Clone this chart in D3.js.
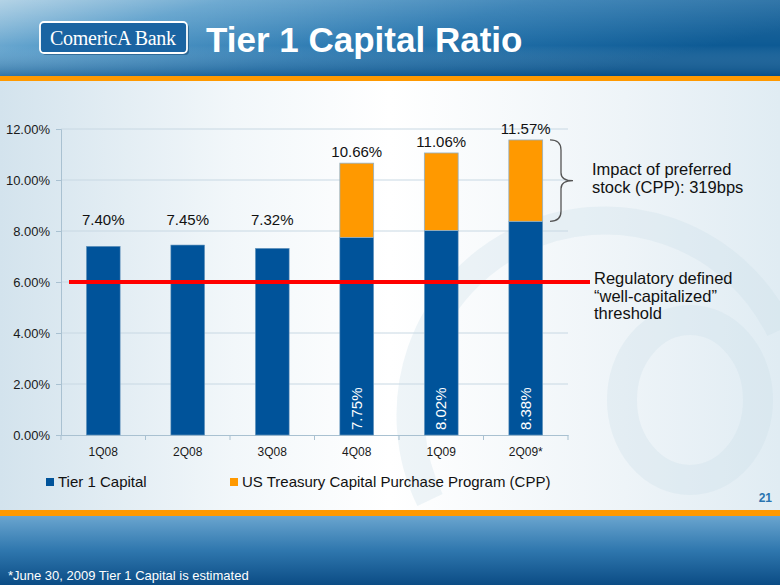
<!DOCTYPE html>
<html><head><meta charset="utf-8">
<script src="https://cdn.jsdelivr.net/npm/d3@7"></script>
<style>body{margin:0;padding:0;overflow:hidden}svg{display:block}</style>
</head><body>
<svg id="c" width="780" height="585"></svg>
<script>
const categories = ["1Q08","2Q08","3Q08","4Q08","1Q09","2Q09*"];
const tier1 = [7.40, 7.45, 7.32, 7.75, 8.02, 8.38];
const cpp = [0, 0, 0, 2.91, 3.04, 3.19];
const totals = [7.40, 7.45, 7.32, 10.66, 11.06, 11.57];
const yTicks = [0, 2, 4, 6, 8, 10, 12];
const threshold = 6;
const seriesNames = ["Tier 1 Capital", "US Treasury Capital Purchase Program (CPP)"];

const svg = d3.select("#c");
const defs = svg.append("defs");
const font = "Liberation Sans, Arial, sans-serif";

// gradients
const bg = defs.append("linearGradient").attr("id","bg").attr("x1",0).attr("x2",1).attr("y1",0).attr("y2",0);
[[0,"#d3e3ed"],[0.3,"#f2f7fa"],[0.5,"#ffffff"],[0.8,"#eef4f8"],[1,"#e0ecf3"]].forEach(s=>bg.append("stop").attr("offset",s[0]).attr("stop-color",s[1]));
const hd = defs.append("linearGradient").attr("id","hd").attr("x1",0).attr("x2",1).attr("y1",0).attr("y2",0.4);
[[0,"#a9cde3"],[0.25,"#5c9fcb"],[0.6,"#2a78b0"],[1,"#0d5a94"]].forEach(s=>hd.append("stop").attr("offset",s[0]).attr("stop-color",s[1]));
const hd2 = defs.append("linearGradient").attr("id","hd2").attr("x1",0).attr("x2",0).attr("y1",0).attr("y2",1);
[[0,"#ffffff",0.12],[0.6,"#ffffff",0],[1,"#003a6e",0.35]].forEach(s=>hd2.append("stop").attr("offset",s[0]).attr("stop-color",s[1]).attr("stop-opacity",s[2]));
const ft = defs.append("linearGradient").attr("id","ft").attr("x1",0).attr("x2",0).attr("y1",0).attr("y2",1);
[[0,"#6aa5cf"],[0.5,"#2f77ae"],[1,"#0b4c85"]].forEach(s=>ft.append("stop").attr("offset",s[0]).attr("stop-color",s[1]));

svg.append("rect").attr("width",780).attr("height",585).attr("fill","url(#bg)");

// watermark
const wm = svg.append("g").attr("fill","none").attr("stroke","#c9dde8").attr("stroke-opacity",0.3);
wm.append("path").attr("d","M 430 500 A 190 190 0 0 1 780 330").attr("stroke-width",28);
wm.append("ellipse").attr("cx",690).attr("cy",400).attr("rx",68).attr("ry",80).attr("stroke-width",30);

// header
svg.append("rect").attr("width",780).attr("height",76).attr("fill","url(#hd)");
svg.append("rect").attr("width",780).attr("height",76).attr("fill","url(#hd2)");
svg.append("rect").attr("y",76).attr("width",780).attr("height",5).attr("fill","#ff9900");
// logo
svg.append("rect").attr("x",42).attr("y",24).attr("width",147).attr("height",31).attr("rx",4).attr("fill","#0b3f6e").attr("opacity",0.5);
svg.append("rect").attr("x",40).attr("y",22).attr("width",147).attr("height",31).attr("rx",4).attr("fill","#1a64a2").attr("stroke","#ffffff").attr("stroke-width",1.8);
svg.append("text").attr("x",113).attr("y",45).attr("text-anchor","middle").attr("fill","#fff")
  .attr("font-family","Liberation Serif, Times New Roman, serif").attr("font-size",20).attr("textLength",126).text("ComericA Bank");
svg.append("text").attr("x",206).attr("y",52).attr("fill","#fff").attr("font-family",font).attr("font-weight","bold")
  .attr("font-size",35).text("Tier 1 Capital Ratio");

// footer
svg.append("rect").attr("y",510).attr("width",780).attr("height",6).attr("fill","#ff9900");
svg.append("rect").attr("y",516).attr("width",780).attr("height",69).attr("fill","url(#ft)");
svg.append("text").attr("x",8).attr("y",580).attr("fill","#fff").attr("font-family",font).attr("font-size",13).text("*June 30, 2009 Tier 1 Capital is estimated");
svg.append("text").attr("x",772).attr("y",502).attr("text-anchor","end").attr("fill","#2a74b0").attr("font-family",font).attr("font-weight","bold").attr("font-size",12).text("21");

// scales
const x = d3.scaleBand().domain(categories).range([61,568]).paddingInner(0.6).paddingOuter(0.3);
const y = d3.scaleLinear().domain([0,12]).range([435,129]);
const axisColor = "#a9c1d1";

// grid
svg.append("g").selectAll("line").data(yTicks.filter(d=>d>0)).join("line")
  .attr("x1",61).attr("x2",568).attr("y1",d=>y(d)).attr("y2",d=>y(d))
  .attr("stroke","#c8d8e3").attr("stroke-width",1);

// y axis
const ya = svg.append("g").attr("transform","translate(61,0)")
  .call(d3.axisLeft(y).tickValues(yTicks).tickSize(5).tickPadding(6).tickFormat(d=>d.toFixed(2)+"%"));
ya.select(".domain").attr("stroke",axisColor);
ya.selectAll(".tick line").attr("stroke",axisColor);
ya.selectAll("text").attr("font-family",font).attr("font-size",13).attr("fill","#1a1a1a");

// x axis
const xa = svg.append("g").attr("transform","translate(0,435)")
  .call(d3.axisBottom(x).tickSize(0).tickPadding(12));
xa.select(".domain").attr("stroke",axisColor);
xa.selectAll("text").attr("font-family",font).attr("font-size",12).attr("fill","#1a1a1a");
const step = x.step();
svg.append("g").selectAll("line").data(d3.range(categories.length+1)).join("line")
  .attr("x1",i=>61+i*step).attr("x2",i=>61+i*step).attr("y1",435).attr("y2",440)
  .attr("stroke",axisColor);

// bars
const blue = "#00539a", orange = "#ff9900";
const bars = svg.append("g");
bars.selectAll("rect.t").data(categories).join("rect").attr("class","t")
  .attr("x",d=>x(d)).attr("width",x.bandwidth())
  .attr("y",(d,i)=>y(tier1[i])).attr("height",(d,i)=>y(0)-y(tier1[i]))
  .attr("fill",blue).attr("stroke","#6f9cc0").attr("stroke-width",0.6);
bars.selectAll("rect.c").data(categories.filter((d,i)=>cpp[i]>0)).join("rect").attr("class","c")
  .attr("x",d=>x(d)).attr("width",x.bandwidth())
  .attr("y",d=>{const i=categories.indexOf(d);return y(tier1[i]+cpp[i]);})
  .attr("height",d=>{const i=categories.indexOf(d);return y(tier1[i])-y(tier1[i]+cpp[i]);})
  .attr("fill",orange).attr("stroke","#8fb0c8").attr("stroke-width",0.8);

// threshold line
svg.append("line").attr("x1",69).attr("x2",590).attr("y1",y(threshold)).attr("y2",y(threshold))
  .attr("stroke","#ff0000").attr("stroke-width",4);

// total labels
svg.append("g").selectAll("text").data(categories).join("text")
  .attr("x",d=>x(d)+x.bandwidth()/2)
  .attr("y",(d,i)=> cpp[i]>0 ? y(totals[i])-6 : y(8.47)+6)
  .attr("text-anchor","middle").attr("font-family",font).attr("font-size",15).attr("fill","#111")
  .text((d,i)=>totals[i].toFixed(2)+"%");

// inner rotated labels
svg.append("g").selectAll("text").data(categories.filter((d,i)=>cpp[i]>0)).join("text")
  .attr("transform",d=>`translate(${x(d)+x.bandwidth()/2+5},${y(0)-5}) rotate(-90)`)
  .attr("font-family",font).attr("font-size",15).attr("fill","#fff")
  .text(d=>tier1[categories.indexOf(d)].toFixed(2)+"%");

// brace
const last = categories.length-1;
const bt = y(totals[last]), bb = y(tier1[last]), bm = (bt+bb)/2;
const bx = 550, bx2 = 561, bx3 = 573;
svg.append("path").attr("fill","none").attr("stroke","#555").attr("stroke-width",1.3)
  .attr("d",`M ${bx} ${bt} Q ${bx2} ${bt} ${bx2} ${bt+10} L ${bx2} ${bm-8} Q ${bx2} ${bm} ${bx3} ${bm} Q ${bx2} ${bm} ${bx2} ${bm+8} L ${bx2} ${bb-10} Q ${bx2} ${bb} ${bx} ${bb}`);

// annotations
const ann = svg.append("g").attr("font-family",font).attr("font-size",16.5).attr("fill","#111");
ann.append("text").attr("x",592).attr("y",175).text("Impact of preferred");
ann.append("text").attr("x",592).attr("y",193).text("stock (CPP): 319bps");
ann.append("text").attr("x",594).attr("y",284).text("Regulatory defined");
ann.append("text").attr("x",594).attr("y",302).text("\u201cwell-capitalized\u201d");
ann.append("text").attr("x",594).attr("y",319).text("threshold");

// legend
const lg = svg.append("g").attr("font-family",font).attr("font-size",15).attr("fill","#111");
[[46,seriesNames[0],blue],[230,seriesNames[1],orange]].forEach(([lx,t,c])=>{
  lg.append("rect").attr("x",lx).attr("y",478).attr("width",8).attr("height",8).attr("fill",c);
  lg.append("text").attr("x",lx+12).attr("y",487).text(t);
});
</script>
</body></html>
